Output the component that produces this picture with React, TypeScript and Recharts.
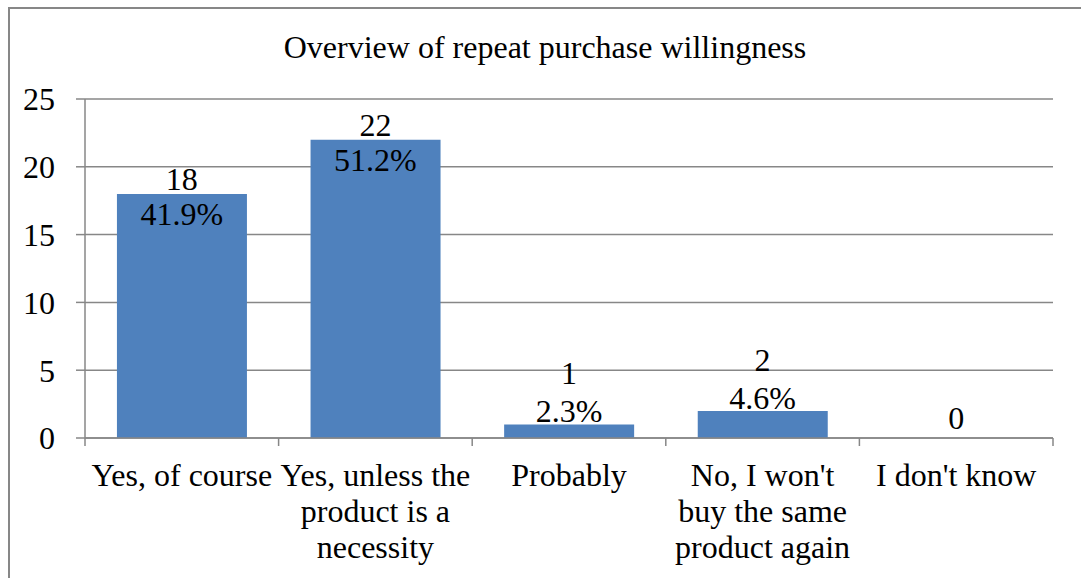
import { ComposedChart, Bar, Line, XAxis, YAxis, CartesianGrid, LabelList } from "recharts";

const categories = [
  "Yes, of course",
  "Yes, unless the product is a necessity",
  "Probably",
  "No, I won't buy the same product again",
  "I don't know",
];
const tickLines = [
  ["Yes, of course"],
  ["Yes, unless the", "product is a", "necessity"],
  ["Probably"],
  ["No, I won't", "buy the same", "product again"],
  ["I don't know"],
];
const counts = [18, 22, 1, 2, 0];
const shares = ["41.9%", "51.2%", "2.3%", "4.6%", ""];
const yTicks = [0, 5, 10, 15, 20, 25];

const W = 1081;
const H = 578;
const MARGIN = { top: 99, right: 28, bottom: 0, left: 0 };
const Y_WIDTH = 85;
const FONT = "'Liberation Serif', 'Times New Roman', serif";
const FS = 32;
const GRAY = "#878787";

const band = (W - MARGIN.left - MARGIN.right - Y_WIDTH) / categories.length;

const data = categories.map((name, i) => ({ name, count: counts[i], share: shares[i] }));

function XTick(props: any) {
  const { x, y, index } = props;
  const lines = tickLines[index] || [];
  return (
    <g>
      <line x1={x - band / 2} x2={x - band / 2} y1={y - 8} y2={y} stroke={GRAY} strokeWidth={1.5} />
      {index === categories.length - 1 && (
        <line x1={x + band / 2} x2={x + band / 2} y1={y - 8} y2={y} stroke={GRAY} strokeWidth={1.5} />
      )}
      {lines.map((l, k) => (
        <text
          key={k}
          x={x}
          y={y + 29 + k * 36}
          textAnchor="middle"
          dominantBaseline="central"
          fontSize={FS}
          fontFamily={FONT}
          fill="#000"
        >
          {l}
        </text>
      ))}
    </g>
  );
}

// Excel-style labels: tall bars straddle the top, short bars sit above it
function ValueLabel(props: any) {
  const { x, y, index } = props;
  const share = shares[index];
  const value = counts[index];
  const txt = (yy: number, s: string | number) => (
    <text x={x} y={yy} textAnchor="middle" dominantBaseline="central" fontSize={FS} fontFamily={FONT} fill="#000">
      {s}
    </text>
  );
  if (!share) return <g>{txt(y - 20, value)}</g>;
  if (value >= 10) {
    return (
      <g>
        {txt(y - 15, value)}
        {txt(y + 20, share)}
      </g>
    );
  }
  return (
    <g>
      {txt(y - 51, value)}
      {txt(y - 13, share)}
    </g>
  );
}

export default function App() {
  return (
    <div style={{ position: "absolute", left: 0, top: 0, width: W, height: H, background: "#fff", overflow: "hidden" }}>
      <div
        style={{
          position: "absolute",
          left: 8,
          top: 7,
          width: W,
          height: H,
          border: `2px solid ${GRAY}`,
          boxSizing: "border-box",
        }}
      />
      <div
        style={{
          position: "absolute",
          left: 0,
          top: 28,
          width: 1090,
          textAlign: "center",
          fontFamily: FONT,
          fontSize: FS,
          lineHeight: "38px",
          color: "#000",
        }}
      >
        Overview of repeat purchase willingness
      </div>
      <div style={{ position: "absolute", left: 0, top: 0 }}>
        <ComposedChart width={W} height={H} data={data} margin={MARGIN} barCategoryGap="16.5%">
          <CartesianGrid vertical={false} stroke={GRAY} strokeWidth={1.5} />
          <XAxis
            dataKey="name"
            interval={0}
            height={140}
            tickLine={false}
            tickSize={8}
            tickMargin={0}
            axisLine={{ stroke: GRAY, strokeWidth: 1.5 }}
            tick={<XTick />}
          />
          <YAxis
            domain={[0, 25]}
            ticks={yTicks}
            width={Y_WIDTH}
            tickSize={9}
            tickMargin={21}
            axisLine={{ stroke: GRAY, strokeWidth: 1.5 }}
            tickLine={{ stroke: GRAY, strokeWidth: 1.5 }}
            tick={{ fontSize: FS, fontFamily: FONT, fill: "#000" }}
          />
          <Bar dataKey="count" fill="#4F81BD" isAnimationActive={false} />
          <Line
            dataKey="count"
            stroke="none"
            dot={false}
            activeDot={false}
            isAnimationActive={false}
          >
            <LabelList dataKey="count" content={<ValueLabel />} />
          </Line>
        </ComposedChart>
      </div>
    </div>
  );
}
